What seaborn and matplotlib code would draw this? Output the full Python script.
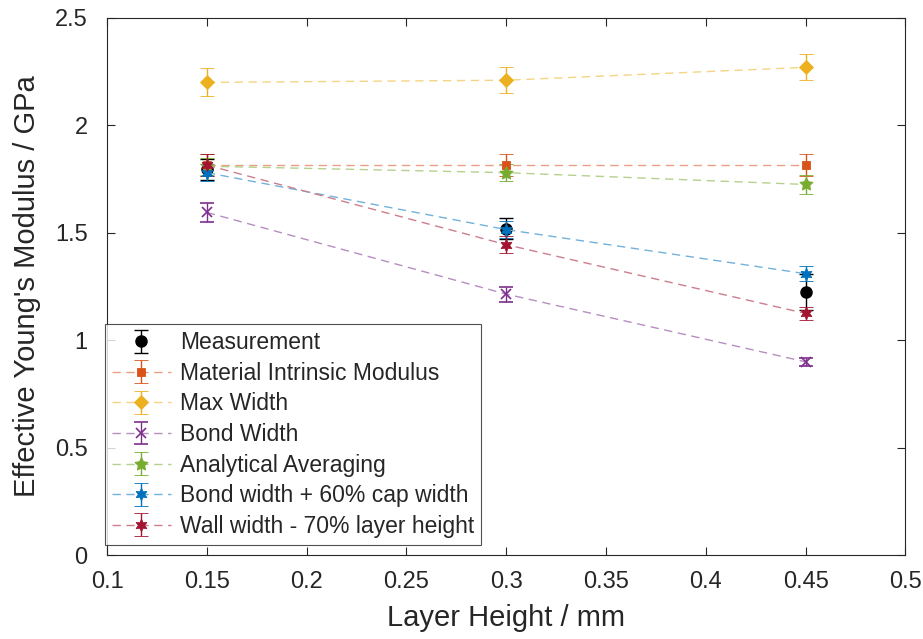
import numpy as np
import pandas as pd
import matplotlib
matplotlib.use("Agg")
import matplotlib.pyplot as plt
import seaborn as sns
from matplotlib.colors import to_rgb

layer_height = [0.15, 0.3, 0.45]

meas = [1.795, 1.52, 1.225]
meas_err = [0.05, 0.05, 0.085]

series_names = ["Material Intrinsic Modulus", "Max Width", "Bond Width",
                "Analytical Averaging", "Bond width + 60% cap width",
                "Wall width - 70% layer height"]
series_vals = [
    [1.815, 1.815, 1.815],
    [2.20, 2.21, 2.27],
    [1.595, 1.215, 0.90],
    [1.81, 1.78, 1.725],
    [1.78, 1.515, 1.31],
    [1.815, 1.445, 1.125],
]
series_err = [
    [0.05, 0.05, 0.05],
    [0.065, 0.06, 0.06],
    [0.045, 0.035, 0.02],
    [0.04, 0.04, 0.045],
    [0.04, 0.04, 0.035],
    [0.05, 0.04, 0.03],
]
series_colors = [(0.85, 0.325, 0.098), (0.929, 0.694, 0.125), (0.494, 0.184, 0.556),
                 (0.466, 0.674, 0.188), (0.0, 0.447, 0.741), (0.635, 0.078, 0.184)]
series_markers = ["s", "D", "x", (5, 1, 0), (6, 1, 0), (6, 1, 0)]
series_msize = [6, 7, 7, 10, 9, 9]

sns.set_theme(style="ticks")
plt.rcParams["font.family"] = ["Liberation Sans", "DejaVu Sans"]

fig = plt.figure(figsize=(9.23, 6.39), dpi=100)
ax = fig.add_axes([0.116, 0.131, 0.865, 0.841])

def lighten(c, f=0.45):
    c = np.array(to_rgb(c))
    return tuple(c + (1 - c) * f)

handles = []
m_err = ax.errorbar(layer_height, meas, yerr=meas_err, fmt="o", color="black",
                    markersize=8, capsize=5, elinewidth=1, capthick=1, zorder=2)
handles.append(m_err)

for name, vals, err, col, mk, ms in zip(series_names, series_vals, series_err,
                                        series_colors, series_markers, series_msize):
    df = pd.DataFrame({"h": layer_height, "E": vals})
    sns.lineplot(data=df, x="h", y="E", ax=ax, color=lighten(col), linewidth=1,
                 legend=False, zorder=3)
    line = ax.lines[-1]
    line.set_dashes((6, 4))
    e = ax.errorbar(layer_height, vals, yerr=err, linestyle="none", marker=mk,
                    color=col, ecolor=col, markersize=ms,
                    markeredgewidth=1.2 if mk == "x" else 0.6,
                    capsize=5, elinewidth=1, capthick=1, zorder=4)
    handles.append((line, e))

ax.set_xlim(0.1, 0.5)
ax.set_ylim(0, 2.5)
ax.set_xticks([0.1, 0.15, 0.2, 0.25, 0.3, 0.35, 0.4, 0.45, 0.5])
ax.set_xticklabels(["0.1", "0.15", "0.2", "0.25", "0.3", "0.35", "0.4", "0.45", "0.5"])
ax.set_yticks([0, 0.5, 1, 1.5, 2, 2.5])
ax.set_yticklabels(["0", "0.5", "1", "1.5", "2", "2.5"])
ax.tick_params(labelsize=17, direction="in", length=6, width=0.8, colors="#262626",
               top=True, right=True)
ax.tick_params(axis="x", pad=11)
ax.tick_params(axis="y", pad=14)
for s in ax.spines.values():
    s.set_linewidth(0.8)
    s.set_color("#262626")
ax.set_xlabel("Layer Height / mm", fontsize=21, color="#262626", labelpad=8)
ax.set_ylabel("Effective Young's Modulus / GPa", fontsize=21, color="#262626", labelpad=10)

leg = ax.legend(handles, ["Measurement"] + series_names, loc="lower left",
                bbox_to_anchor=(-0.003, 0.02), fontsize=16.5, frameon=True,
                fancybox=False, handlelength=2.6, borderaxespad=0.0,
                labelspacing=0.33, handletextpad=0.4, borderpad=0.3)
leg.get_frame().set_edgecolor("#262626")
leg.get_frame().set_linewidth(0.8)

fig.savefig("out.png", dpi=100)
